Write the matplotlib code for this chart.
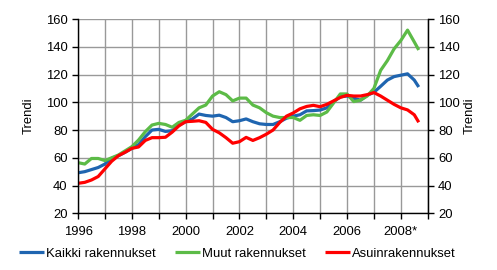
import numpy as np
import matplotlib
matplotlib.use("Agg")
import matplotlib.pyplot as plt

plt.rcParams['font.family'] = ['Liberation Sans', 'DejaVu Sans']

# months since Jan 1996 (quarterly samples, last = Sep 2008)
months = list(range(0, 151, 3)) + [152]

kaikki = [49.2, 50, 51.5, 53, 55.5, 59.6, 61.5, 64, 66.8, 69.5, 75.2, 80,
          80.5, 79, 79.5, 83.5, 86, 88, 91.5, 90.5, 90, 90.7, 89, 86,
          86.7, 88, 86, 84.5, 84, 84, 86, 88.5, 90, 91, 93.8, 94,
          94.4, 96, 100.5, 104, 104.5, 103, 101.5, 105, 107.2, 111.5, 116, 118.5,
          119.5, 120.5, 116, 111]
muut = [56.5, 55.5, 59.5, 59.5, 58, 60, 62, 65, 68, 72.8, 78.8, 83.6,
        84.8, 84, 82, 85.5, 87, 91.5, 96, 98, 104.5, 107.6, 105.5, 101,
        103, 103, 98, 96, 92.5, 90, 89, 89, 89, 87, 90.5, 91,
        90.5, 93, 99.5, 106, 106, 100.5, 101.5, 104.5, 110, 123, 130, 138.5,
        144.5, 152, 143.5, 137.7]
asuin = [41.6, 42.3, 44, 46.5, 52, 57.5, 61.5, 64, 66.8, 67.8, 72.5, 74.5,
         74.5, 74.8, 78.5, 83, 86, 86.3, 86.7, 85.5, 80.5, 78, 74.5, 70.5,
         71.6, 74.7, 72.5, 74.5, 77, 80, 85.5, 90, 92.3, 95.3, 97, 97.8,
         96.8, 98.5, 101, 103.5, 105, 104.5, 104.5, 105.5, 107, 104.5, 101.5, 98.5,
         96, 94.5, 91, 85.6]

series_names = ["Kaikki rakennukset", "Muut rakennukset", "Asuinrakennukset"]
colors = ["#1F65B0", "#5CBB47", "#FF0000"]
xtick_labels = ["1996", "1998", "2000", "2002", "2004", "2006", "2008*"]

t = 1996 + np.array(months) / 12.0
FS = 9.4

fig = plt.figure(figsize=(4.97, 2.70), dpi=100)
ax = fig.add_axes([0.157, 0.21, 0.7036, 0.7196])

for vals, name, c in zip([kaikki, muut, asuin], series_names, colors):
    ax.plot(t, vals, color=c, lw=2.3, label=name, solid_capstyle='butt')

ax.set_xlim(1996, 2009)
ax.set_ylim(20, 160)
ax.set_yticks(np.arange(20, 161, 20))
ax.set_xticks(np.arange(1996, 2010, 1))
ax.set_xticklabels([xtick_labels[i // 2] if i % 2 == 0 and i // 2 < len(xtick_labels) else "" for i in range(14)])
ax.grid(True, color="#999999", lw=1.0)
ax.set_axisbelow(True)
ax.spines["top"].set_visible(False)
for s in ["left", "right", "bottom"]:
    ax.spines[s].set_color("black")
    ax.spines[s].set_linewidth(1.0)
ax.tick_params(axis='both', direction='out', length=4, width=1, labelsize=FS, colors='black')
ax.tick_params(axis='x', pad=5)
ax.set_ylabel("Trendi", fontsize=FS, labelpad=8)

ax2 = ax.twinx()
ax2.set_ylim(20, 160)
ax2.set_yticks(np.arange(20, 161, 20))
ax2.tick_params(axis='y', direction='out', length=4, width=1, labelsize=FS, colors='black')
for s in ["top", "left", "bottom"]:
    ax2.spines[s].set_visible(False)
ax2.spines["right"].set_color("black")
ax2.set_ylabel("Trendi", fontsize=FS, labelpad=3)

fig.legend(loc="lower center", bbox_to_anchor=(0.477, -0.005), ncol=3, frameon=False,
           fontsize=FS, handlelength=1.9, handletextpad=0.15, columnspacing=1.5)

fig.savefig("out.png", dpi=100)
